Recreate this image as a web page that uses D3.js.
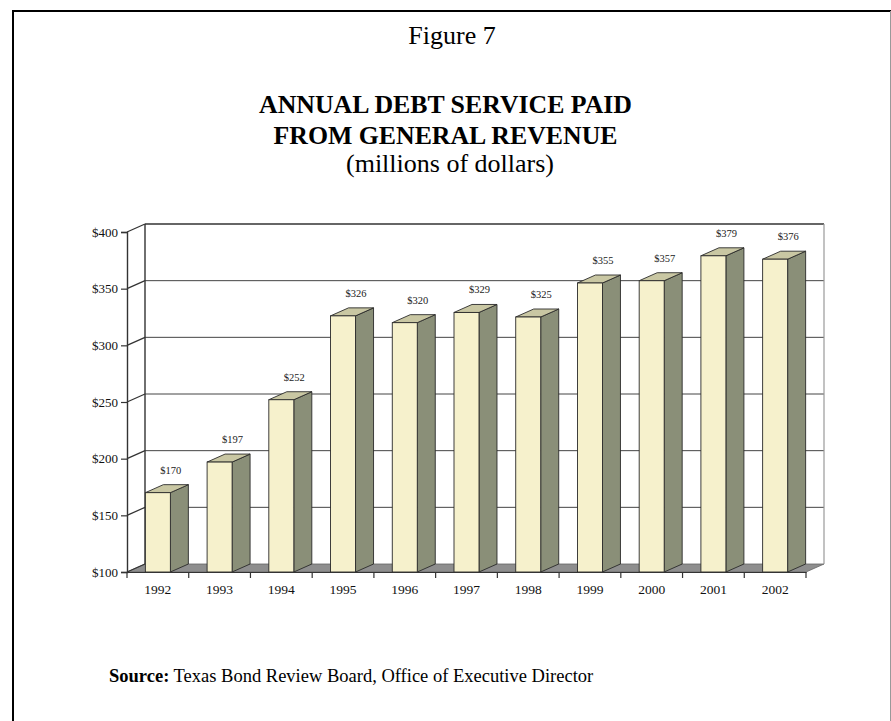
<!DOCTYPE html>
<html>
<head>
<meta charset="utf-8">
<script src="https://cdn.jsdelivr.net/npm/d3@7/dist/d3.min.js"></script>
<style>
  html, body { margin: 0; padding: 0; background: #fff; }
  svg { display: block; font-family: "Liberation Serif", "Times New Roman", serif; }
</style>
</head>
<body>
<svg id="chart" width="891" height="721"></svg>
<script>
// Annual debt service paid from general revenue, millions of dollars
const years = ["1992", "1993", "1994", "1995", "1996", "1997", "1998", "1999", "2000", "2001", "2002"];
const debtService = [170, 197, 252, 326, 320, 329, 325, 355, 357, 379, 376];
const yTicks = [100, 150, 200, 250, 300, 350, 400];

const svg = d3.select("#chart");

// Page frame
svg.append("line").attr("x1", 13).attr("y1", 10).attr("x2", 13).attr("y2", 721)
  .attr("stroke", "#000").attr("stroke-width", 2);
svg.append("line").attr("x1", 12).attr("y1", 11).attr("x2", 891).attr("y2", 11)
  .attr("stroke", "#000").attr("stroke-width", 2);
svg.append("line").attr("x1", 890.5).attr("y1", 11).attr("x2", 890.5).attr("y2", 721)
  .attr("stroke", "#999").attr("stroke-width", 1);

// Titles
svg.append("text").attr("x", 452).attr("y", 43.5).attr("text-anchor", "middle")
  .attr("font-size", 26).text("Figure 7");
svg.append("text").attr("x", 445.5).attr("y", 113).attr("text-anchor", "middle")
  .attr("font-size", 25.8).attr("font-weight", "bold").text("ANNUAL DEBT SERVICE PAID");
svg.append("text").attr("x", 445.5).attr("y", 143.5).attr("text-anchor", "middle")
  .attr("font-size", 25.8).attr("font-weight", "bold").text("FROM GENERAL REVENUE");
svg.append("text").attr("x", 450).attr("y", 172).attr("text-anchor", "middle")
  .attr("font-size", 26).text("(millions of dollars)");

// Plot geometry with a 3-D depth offset
const plotL = 127, plotR = 806, plotB = 572, plotT = 232;
const dx = 18, dy = -8;

const x = d3.scaleBand().domain(years).range([plotL, plotR]).padding(0);
const y = d3.scaleLinear().domain([100, 400]).range([plotB, plotT]);

const g = svg.append("g");
const lineCol = "#333";

// Back wall
g.append("rect").attr("x", plotL + dx).attr("y", plotT + dy)
  .attr("width", plotR - plotL).attr("height", plotB - plotT).attr("fill", "#fff");

// Floor
g.append("path")
  .attr("d", `M${plotL},${plotB}L${plotR},${plotB}L${plotR + dx},${plotB + dy}L${plotL + dx},${plotB + dy}Z`)
  .attr("fill", "#8e8e8e").attr("stroke", "#666").attr("stroke-width", 0.8);

// Gridlines on the back wall and diagonals across the side wall
yTicks.forEach(t => {
  if (t > 100) {
    g.append("line").attr("x1", plotL + dx).attr("x2", plotR + dx)
      .attr("y1", y(t) + dy).attr("y2", y(t) + dy)
      .attr("stroke", t === 400 ? lineCol : "#444").attr("stroke-width", t === 400 ? 1.4 : 1);
  }
  g.append("line").attr("x1", plotL).attr("y1", y(t))
    .attr("x2", plotL + dx).attr("y2", y(t) + dy)
    .attr("stroke", lineCol).attr("stroke-width", 1.2);
});

// Wall edges
g.append("line").attr("x1", plotL + dx).attr("x2", plotL + dx)
  .attr("y1", plotT + dy).attr("y2", plotB + dy).attr("stroke", lineCol).attr("stroke-width", 1.4);
g.append("line").attr("x1", plotR + dx).attr("x2", plotR + dx)
  .attr("y1", plotT + dy).attr("y2", plotB + dy).attr("stroke", "#999").attr("stroke-width", 1.2);

// Y axis
const yAxis = d3.axisLeft(y).tickValues(yTicks).tickSize(6).tickFormat(d => "$" + d);
const ya = svg.append("g").attr("transform", `translate(${plotL},0)`).call(yAxis);
ya.select(".domain").attr("stroke", lineCol).attr("stroke-width", 1.4);
ya.selectAll(".tick line").attr("stroke", lineCol).attr("stroke-width", 1.2);
ya.selectAll(".tick text").attr("font-family", "Liberation Serif").attr("font-size", 13)
  .attr("fill", "#111").attr("x", -9);

// X axis
const xAxis = d3.axisBottom(x).tickSize(0).tickPadding(12);
const xa = svg.append("g").attr("transform", `translate(0,${plotB})`).call(xAxis);
xa.select(".domain").attr("stroke", lineCol).attr("stroke-width", 1.2);
xa.selectAll(".tick text").attr("font-family", "Liberation Serif").attr("font-size", 13.5)
  .attr("fill", "#111");
// Category separators below the floor
const sepPositions = years.map(d => x(d)).concat([plotR]);
xa.selectAll(".sep").data(sepPositions).enter().append("line")
  .attr("class", "sep").attr("x1", d => d).attr("x2", d => d)
  .attr("y1", 0).attr("y2", 6).attr("stroke", lineCol).attr("stroke-width", 1.2);

// Bars
const barW = x.bandwidth() * 0.405;
const bars = g.selectAll(".bar").data(years.map((yr, i) => ({ yr, v: debtService[i] })))
  .enter().append("g").attr("class", "bar");

bars.each(function(d) {
  const b = d3.select(this);
  const x0 = x(d.yr) + (x.bandwidth() - barW) / 2;
  const x1 = x0 + barW;
  const yt = y(d.v);
  // side face
  b.append("path")
    .attr("d", `M${x1},${plotB}L${x1 + dx},${plotB + dy}L${x1 + dx},${yt + dy}L${x1},${yt}Z`)
    .attr("fill", "#8a8f78").attr("stroke", "#2a2a2a").attr("stroke-width", 0.9);
  // top face
  b.append("path")
    .attr("d", `M${x0},${yt}L${x1},${yt}L${x1 + dx},${yt + dy}L${x0 + dx},${yt + dy}Z`)
    .attr("fill", "#c9c7a3").attr("stroke", "#2a2a2a").attr("stroke-width", 0.9);
  // front face
  b.append("rect").attr("x", x0).attr("y", yt).attr("width", barW).attr("height", plotB - yt)
    .attr("fill", "#f6f1cc").attr("stroke", "#2a2a2a").attr("stroke-width", 0.9);
  // value label
  b.append("text").attr("x", x0 + barW / 2 + 13).attr("y", yt - 19)
    .attr("text-anchor", "middle").attr("font-size", 10.5).attr("fill", "#222")
    .text("$" + d.v);
});

// Source line
const src = svg.append("text").attr("x", 109).attr("y", 682).attr("font-size", 18.5);
src.append("tspan").attr("font-weight", "bold").text("Source:");
src.append("tspan").text(" Texas Bond Review Board, Office of Executive Director");
</script>
</body>
</html>
